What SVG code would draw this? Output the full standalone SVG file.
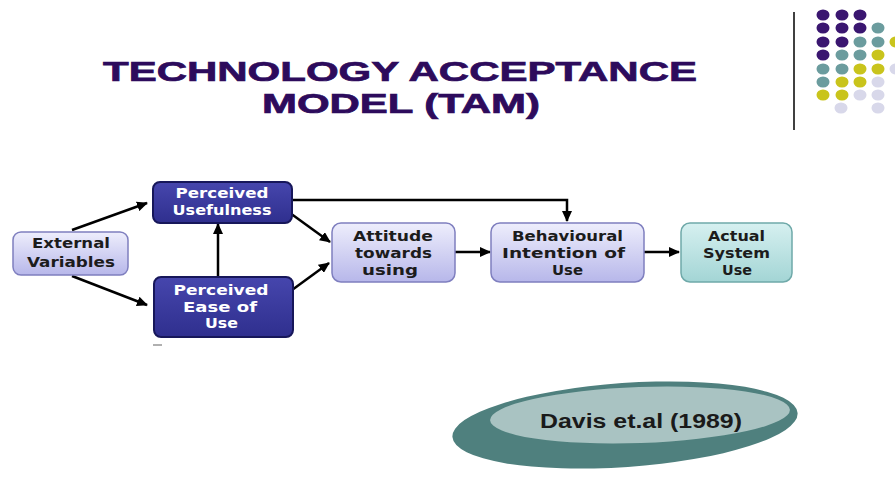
<svg xmlns="http://www.w3.org/2000/svg" width="895" height="477" viewBox="0 0 895 477">
<defs>
<linearGradient id="gLav" x1="0" y1="0" x2="0" y2="1">
<stop offset="0" stop-color="#eeeefc"/><stop offset="1" stop-color="#b7b7ea"/>
</linearGradient>
<linearGradient id="gTeal" x1="0" y1="0" x2="0" y2="1">
<stop offset="0" stop-color="#d6f0f0"/><stop offset="1" stop-color="#a3d5d5"/>
</linearGradient>
<linearGradient id="gDark" x1="0" y1="0" x2="0" y2="1">
<stop offset="0" stop-color="#4646ad"/><stop offset="1" stop-color="#2f2f8e"/>
</linearGradient>
<marker id="arr" markerUnits="userSpaceOnUse" markerWidth="11" markerHeight="10" refX="10" refY="5" orient="auto">
<path d="M0,0 L11,5 L0,10 z" fill="#000"/>
</marker>
<style>
.title{font-family:"Liberation Sans",Arial,sans-serif;font-weight:bold;font-size:27px;fill:#2d0b5c;stroke:#2d0b5c;stroke-width:0.7;text-anchor:middle}
.lab{font-family:"DejaVu Sans",Verdana,sans-serif;font-weight:bold;font-size:14.5px;text-anchor:middle}
.sm{font-size:14px}
.dk{fill:#1c1c1c}
.wt{fill:#ffffff}
.lav{fill:url(#gLav);stroke:#7f7fbf;stroke-width:1.5}
.teal{fill:url(#gTeal);stroke:#6fa9a9;stroke-width:1.5}
.dark{fill:url(#gDark);stroke:#17175a;stroke-width:2}
.con{fill:none;stroke:#000;stroke-width:2.5;marker-end:url(#arr)}
.p{fill:#3a1670}.t{fill:#6b9c9e}.y{fill:#c9c41c}.l{fill:#d8d8ea}
</style>
</defs>
<rect width="895" height="477" fill="#ffffff"/>

<g id="title">
<text class="title" x="400" y="81" textLength="594" lengthAdjust="spacingAndGlyphs">TECHNOLOGY ACCEPTANCE</text>
<text class="title" x="401" y="113" textLength="278" lengthAdjust="spacingAndGlyphs">MODEL (TAM)</text>
</g>

<g id="decor">
<line x1="794" y1="12" x2="794" y2="130" stroke="#000" stroke-width="1.5"/>
<ellipse class="p" cx="823" cy="15" rx="6.5" ry="5.5"/><ellipse class="p" cx="842" cy="15" rx="6.5" ry="5.5"/><ellipse class="p" cx="860" cy="15" rx="6.5" ry="5.5"/>
<ellipse class="p" cx="823" cy="28" rx="6.5" ry="5.5"/><ellipse class="p" cx="842" cy="28" rx="6.5" ry="5.5"/><ellipse class="p" cx="860" cy="28" rx="6.5" ry="5.5"/><ellipse class="t" cx="878" cy="28" rx="6.5" ry="5.5"/>
<ellipse class="p" cx="823" cy="42" rx="6.5" ry="5.5"/><ellipse class="p" cx="842" cy="42" rx="6.5" ry="5.5"/><ellipse class="t" cx="860" cy="42" rx="6.5" ry="5.5"/><ellipse class="t" cx="878" cy="42" rx="6.5" ry="5.5"/><ellipse class="y" cx="896" cy="42" rx="6.5" ry="5.5"/>
<ellipse class="p" cx="823" cy="55" rx="6.5" ry="5.5"/><ellipse class="t" cx="842" cy="55" rx="6.5" ry="5.5"/><ellipse class="t" cx="860" cy="55" rx="6.5" ry="5.5"/><ellipse class="y" cx="878" cy="55" rx="6.5" ry="5.5"/>
<ellipse class="t" cx="823" cy="69" rx="6.5" ry="5.5"/><ellipse class="t" cx="842" cy="69" rx="6.5" ry="5.5"/><ellipse class="y" cx="860" cy="69" rx="6.5" ry="5.5"/><ellipse class="y" cx="878" cy="69" rx="6.5" ry="5.5"/><ellipse class="l" cx="896" cy="69" rx="6.5" ry="5.5"/>
<ellipse class="t" cx="823" cy="82" rx="6.5" ry="5.5"/><ellipse class="y" cx="842" cy="82" rx="6.5" ry="5.5"/><ellipse class="y" cx="860" cy="82" rx="6.5" ry="5.5"/><ellipse class="l" cx="878" cy="82" rx="6.5" ry="5.5"/>
<ellipse class="y" cx="823" cy="95" rx="6.5" ry="5.5"/><ellipse class="y" cx="842" cy="95" rx="6.5" ry="5.5"/><ellipse class="l" cx="860" cy="95" rx="6.5" ry="5.5"/><ellipse class="l" cx="878" cy="95" rx="6.5" ry="5.5"/>
<ellipse class="l" cx="841" cy="108" rx="6.5" ry="5.5"/><ellipse class="l" cx="878" cy="108" rx="6.5" ry="5.5"/>
<rect x="153" y="344" width="9" height="2" fill="#b0b0b0"/>
</g>

<g id="connectors">
<line class="con" x1="72" y1="230" x2="147" y2="203"/>
<line class="con" x1="72" y1="276" x2="147" y2="305"/>
<line class="con" x1="218" y1="277" x2="218" y2="224"/>
<line class="con" x1="290" y1="213" x2="330" y2="242"/>
<line class="con" x1="292" y1="290" x2="329" y2="263"/>
<polyline class="con" points="292,200 567,200 567,221"/>
<line class="con" x1="455" y1="252" x2="490" y2="252"/>
<line class="con" x1="644" y1="252" x2="679" y2="252"/>
</g>

<g id="external">
<rect class="lav" x="13" y="232" width="115" height="43" rx="8"/>
<text class="lab dk" x="71" y="248" textLength="78" lengthAdjust="spacingAndGlyphs">External</text>
<text class="lab dk" x="71" y="267" textLength="88" lengthAdjust="spacingAndGlyphs">Variables</text>
</g>

<g id="usefulness">
<rect class="dark" x="153" y="182" width="139" height="41" rx="7"/>
<text class="lab sm wt" x="222" y="197.5" textLength="93" lengthAdjust="spacingAndGlyphs">Perceived</text>
<text class="lab sm wt" x="222" y="214.5" textLength="99" lengthAdjust="spacingAndGlyphs">Usefulness</text>
</g>

<g id="ease">
<rect class="dark" x="154" y="277" width="139" height="60" rx="7"/>
<text class="lab sm wt" x="221" y="295" textLength="95" lengthAdjust="spacingAndGlyphs">Perceived</text>
<text class="lab sm wt" x="220" y="311.5" textLength="74" lengthAdjust="spacingAndGlyphs">Ease of</text>
<text class="lab sm wt" x="221.5" y="328" textLength="33" lengthAdjust="spacingAndGlyphs">Use</text>
</g>

<g id="attitude">
<rect class="lav" x="332" y="223" width="123" height="59" rx="9"/>
<text class="lab dk" x="393" y="241" textLength="80" lengthAdjust="spacingAndGlyphs">Attitude</text>
<text class="lab dk" x="393.5" y="258" textLength="77" lengthAdjust="spacingAndGlyphs">towards</text>
<text class="lab dk" x="390" y="275" textLength="56" lengthAdjust="spacingAndGlyphs">using</text>
</g>

<g id="intention">
<rect class="lav" x="491" y="223" width="153" height="59" rx="9"/>
<text class="lab dk" x="567.5" y="241" textLength="111" lengthAdjust="spacingAndGlyphs">Behavioural</text>
<text class="lab dk" x="563.5" y="258" textLength="123" lengthAdjust="spacingAndGlyphs">Intention of</text>
<text class="lab dk" x="567.5" y="275" textLength="31" lengthAdjust="spacingAndGlyphs">Use</text>
</g>

<g id="actual">
<rect class="teal" x="681" y="223" width="111" height="59" rx="9"/>
<text class="lab dk" x="736.5" y="241" textLength="57" lengthAdjust="spacingAndGlyphs">Actual</text>
<text class="lab dk" x="736.5" y="258" textLength="67" lengthAdjust="spacingAndGlyphs">System</text>
<text class="lab dk" x="737" y="275" textLength="30" lengthAdjust="spacingAndGlyphs">Use</text>
</g>

<g id="citation">
<ellipse cx="625" cy="425" rx="173" ry="42" transform="rotate(-4 625 425)" fill="#4f807e"/>
<ellipse cx="640" cy="415" rx="150" ry="28" transform="rotate(-2 640 415)" fill="#a9c3c2"/>
<text x="641" y="428" textLength="202" lengthAdjust="spacingAndGlyphs" font-family="'Liberation Sans',Arial,sans-serif" font-weight="bold" font-size="20" fill="#1a1a1a" text-anchor="middle">Davis et.al (1989)</text>
</g>
</svg>
